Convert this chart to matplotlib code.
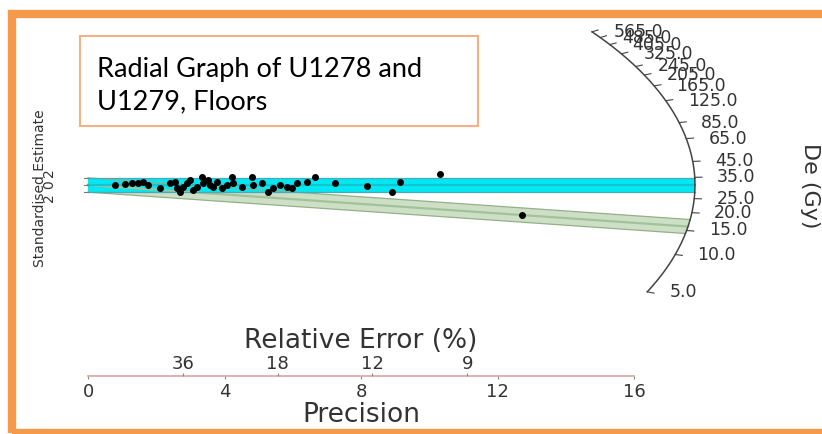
import numpy as np
import matplotlib
matplotlib.use('Agg')
import matplotlib.pyplot as plt
from matplotlib.patches import Rectangle

# Radial plot data: precision (1/relative error) and standardised estimate
precision = [0.79, 1.09, 1.29, 1.47, 1.61, 1.76, 2.11, 2.40, 2.55, 2.61, 2.70,
             2.79, 2.90, 2.99, 3.08, 3.20, 3.34, 3.37, 3.52, 3.58, 3.67, 3.78,
             3.93, 4.08, 4.22, 4.25, 4.52, 4.81, 4.84, 5.10, 5.28, 5.43, 5.63,
             5.84, 5.98, 6.13, 6.42, 6.66, 7.24, 8.18, 8.91, 9.15, 10.32, 12.73]
std_estimate = [0.0, 0.28, 0.56, 0.56, 0.84, 0.0, -0.84, 0.56, 0.84, -0.84, -1.96,
                -0.56, 0.56, 1.40, -1.40, -0.56, 2.24, 0.56, 1.40, 0.0, -0.56, 0.84,
                -0.84, 0.0, 2.24, 0.56, -0.56, 2.24, 0.0, 0.56, -1.96, -0.84, 0.0,
                -0.56, -0.84, 0.56, 0.84, 2.24, 0.56, -0.28, -1.96, 0.84, 3.08, -8.4]

central_de = 31.0      # Gy, main population (cyan band)
second_de = 16.0       # Gy, second population (green band)
de_ticks = [5, 10, 15, 20, 25, 35, 45, 65, 85, 125, 165, 205, 245, 325, 405, 485, 565]
prec_ticks = [0, 4, 8, 12, 16]
rel_err_ticks = [36, 18, 12, 9]

RX, RZ = 17.8, 77.0    # arc radii in precision / z units

W, H = 822, 434
fig = plt.figure(figsize=(W / 100, H / 100), dpi=100)

# main axes: precision horizontally, standardised estimate vertically
ox, oy, kx, kz = 88, 185, 34.1, 3.57
ax = fig.add_axes([0, 0, 1, 1])
ax.set_xlim(-ox / kx, (W - ox) / kx)
ax.set_ylim(-(H - oy) / kz, oy / kz)
ax.axis('off')


def arc_point(de):
    s = np.log(de / central_de)
    t = 1 / np.sqrt(1 / RX**2 + s**2 / RZ**2)
    return t, s * t


def line_arc_x(c, s):
    a = 1 / RX**2 + s**2 / RZ**2
    b = 2 * c * s / RZ**2
    cc = c**2 / RZ**2 - 1
    return (-b + np.sqrt(b * b - 4 * a * cc)) / (2 * a)


def band(de, fill, edge, mid):
    s = np.log(de / central_de)
    xu, xl, xm = line_arc_x(2, s), line_arc_x(-2, s), line_arc_x(0, s)
    ax.fill([0, 0, xu, xl], [-2, 2, 2 + s * xu, -2 + s * xl], color=fill, lw=0)
    ax.plot([0, xu], [2, 2 + s * xu], color=edge, lw=0.9)
    ax.plot([0, xl], [-2, -2 + s * xl], color=edge, lw=0.9)
    ax.plot([0, xm], [0, s * xm], color=mid, lw=1.6)


band(second_de, '#cde0c6', '#93b08a', '#a3c29a')
band(central_de, '#00e8f2', '#4aa8b8', '#14c4d4')

ax.scatter(precision, std_estimate, s=16, color='black', zorder=5)

# z axis ticks
for z in [-2, 0, 2]:
    ax.plot([-0.12, 0], [z, z], color='#777777', lw=0.8)
for z, lab in zip([3.4, 0, -3.4], ['2', '0', '2']):
    ax.text(-1.15, z, lab, rotation=90, ha='center', va='center',
            fontsize=10, color='#333333')

# De arc
slopes = np.linspace(np.log(5 / central_de), np.log(565 / central_de), 300)
ts = 1 / np.sqrt(1 / RX**2 + slopes**2 / RZ**2)
ax.plot(ts, slopes * ts, color='#444444', lw=1.1)
for de in de_ticks:
    t, z = arc_point(de)
    ax.plot([t, t * 1.012], [z, z * 1.012], color='#444444', lw=0.8)
    ax.text(t + 0.65, z, f'{de:.1f}', ha='left', va='center',
            fontsize=12.5, color='#333333')

fig.text(810 / W, 1 - 186 / H, 'De (Gy)', rotation=-90, ha='center', va='center',
         fontsize=16, color='#333333')
fig.text(40 / W, 1 - 188 / H, 'Standardised Estimate', rotation=90,
         ha='center', va='center', fontsize=10, color='#333333',
         family=['Liberation Sans Narrow', 'DejaVu Sans'])

# precision / relative error axis
bax = fig.add_axes([ox / W, 1 - 376 / H, 546 / W, 0.0005])
bax.set_xlim(0, 16)
for sp in ['left', 'right', 'top']:
    bax.spines[sp].set_visible(False)
bax.spines['bottom'].set_color('#d9a6a6')
bax.spines['bottom'].set_linewidth(1.2)
bax.set_yticks([])
bax.set_xticks(prec_ticks)
bax.tick_params(axis='x', length=2, color='#888888', labelsize=13,
                labelcolor='#333333', pad=3)
bax.set_xlabel('Precision', fontsize=19, color='#333333', labelpad=1)

tax = bax.twiny()
tax.set_xlim(0, 16)
for sp in tax.spines.values():
    sp.set_visible(False)
tax.set_xticks([100 / r for r in rel_err_ticks])
tax.set_xticklabels([str(r) for r in rel_err_ticks])
tax.tick_params(axis='x', length=2, color='#888888', labelsize=13,
                labelcolor='#333333', pad=0)
tax.set_xlabel('Relative Error (%)', fontsize=19, color='#333333', labelpad=5)

# title box and outer frame
fig.add_artist(Rectangle((80 / W, 1 - 126 / H), 398 / W, 90 / H,
                         transform=fig.transFigure, fill=False,
                         edgecolor='#f4b183', lw=1.5))
fig.text(97 / W, 1 - 70 / H, 'Radial Graph of U1278 and', fontsize=19.5,
         family='Lato', ha='left', va='center')
fig.text(97 / W, 1 - 102 / H, 'U1279, Floors', fontsize=19.5,
         family='Lato', ha='left', va='center')
fig.add_artist(Rectangle((12 / W, 1 - 433 / H), 900 / W, 419 / H,
                         transform=fig.transFigure, fill=False,
                         edgecolor='#f59a4a', lw=6))

fig.savefig('out.png', dpi=100)
